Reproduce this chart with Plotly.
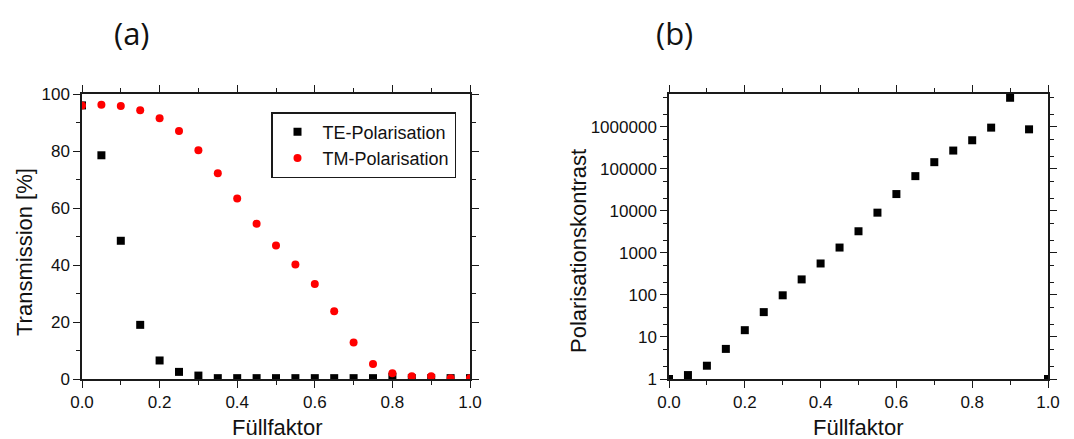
import plotly.graph_objects as go

# Fill factor samples
fill_factor = [0.0, 0.05, 0.1, 0.15, 0.2, 0.25, 0.3, 0.35, 0.4, 0.45, 0.5,
               0.55, 0.6, 0.65, 0.7, 0.75, 0.8, 0.85, 0.9, 0.95, 1.0]

# Transmission [%] for both polarisations
te_transmission = [96.0, 78.5, 48.5, 19.0, 6.5, 2.5, 1.2, 0.3, 0.3, 0.3, 0.3,
                   0.3, 0.3, 0.3, 0.3, 0.3, 0.8, 0.3, 0.3, 0.3, 0.3]
tm_transmission = [96.0, 96.2, 95.8, 94.3, 91.5, 87.0, 80.3, 72.2, 63.3, 54.5, 46.8,
                   40.2, 33.3, 23.8, 12.8, 5.3, 2.0, 1.0, 1.0, 0.3, 0.3]

# Polarisation contrast (TM / TE)
contrast = [1.0, 1.24, 2.07, 5.2, 14.5, 39, 98, 234, 560, 1340, 3270,
            9060, 25100, 67000, 144000, 272000, 478000, 955000, 4900000, 870000, 1.0]

log_tick_vals = [1, 10, 100, 1000, 10000, 100000, 1000000]
log_tick_text = ["1", "10", "100", "1000", "10000", "100000", "1000000"]

FONT = "Liberation Sans, Arial, sans-serif"
PANEL_FONT = "Open Sans, Noto Sans, sans-serif"

fig = go.Figure()

fig.add_trace(go.Scatter(
    x=fill_factor, y=te_transmission, mode="markers", name="TE-Polarisation",
    marker=dict(symbol="square", size=8, color="black"),
    xaxis="x", yaxis="y"))
fig.add_trace(go.Scatter(
    x=fill_factor, y=tm_transmission, mode="markers", name="TM-Polarisation",
    marker=dict(symbol="circle", size=8, color="#ff0000"),
    xaxis="x", yaxis="y"))
fig.add_trace(go.Scatter(
    x=fill_factor, y=contrast, mode="markers", showlegend=False,
    marker=dict(symbol="square", size=8, color="black"),
    xaxis="x2", yaxis="y2"))

axis_common = dict(
    showline=True, linecolor="#1a1a1a", linewidth=1.5, mirror="ticks",
    ticks="outside", ticklen=7, tickwidth=1.3, tickcolor="#1a1a1a",
    showgrid=False, zeroline=False,
    tickfont=dict(family=FONT, size=17, color="#111"), automargin=False,
)
minor_common = dict(ticks="outside", ticklen=4, tickwidth=1, tickcolor="#1a1a1a",
                    showgrid=False)

y_dom = [1 - 379 / 439, 1 - 94 / 439]

fig.update_layout(
    width=1074, height=439,
    margin=dict(l=0, r=0, t=0, b=0),
    paper_bgcolor="white", plot_bgcolor="white",
    font=dict(family=FONT, color="#111"),
    xaxis=dict(domain=[82 / 1074, 470 / 1074], range=[0, 1], dtick=0.2,
               tickformat=".1f", minor=dict(dtick=0.1, **minor_common),
               anchor="y", **axis_common),
    yaxis=dict(domain=y_dom, range=[0, 100], dtick=20,
               minor=dict(dtick=10, **minor_common),
               anchor="x", **axis_common),
    xaxis2=dict(domain=[669 / 1074, 1048 / 1074], range=[0, 1], dtick=0.2,
                tickformat=".1f", minor=dict(dtick=0.1, **minor_common),
                anchor="y2", **axis_common),
    yaxis2=dict(domain=y_dom, type="log", range=[0, 6.78],
                tickvals=log_tick_vals, ticktext=log_tick_text,
                minor=dict(**minor_common),
                anchor="x2", **axis_common),
    legend=dict(x=271 / 1074, y=1 - 112 / 439, xref="paper", yref="paper",
                xanchor="left", yanchor="top",
                bgcolor="white", bordercolor="#1a1a1a", borderwidth=1.5,
                font=dict(family=FONT, size=18, color="#111"),
                itemwidth=40, tracegroupgap=0),
    showlegend=True,
)

annotations = [
    dict(text="(a)", x=132 / 1074, y=1 - 33 / 439,
         font=dict(size=31, family=PANEL_FONT)),
    dict(text="(b)", x=674 / 1074, y=1 - 33 / 439,
         font=dict(size=31, family=PANEL_FONT)),
    dict(text="Füllfaktor", x=277 / 1074, y=1 - 427 / 439, font=dict(size=22)),
    dict(text="Füllfaktor", x=858 / 1074, y=1 - 427 / 439, font=dict(size=22)),
    dict(text="Transmission [%]", x=24 / 1074, y=1 - 252 / 439, textangle=-90,
         font=dict(size=22)),
    dict(text="Polarisationskontrast", x=578 / 1074, y=1 - 251 / 439, textangle=-90,
         font=dict(size=22)),
]
for a in annotations:
    a.update(xref="paper", yref="paper", showarrow=False,
             xanchor="center", yanchor="middle")
    a["font"].setdefault("family", FONT)
    a["font"]["color"] = "#111"
fig.update_layout(annotations=annotations)

fig.write_html("out.html")
